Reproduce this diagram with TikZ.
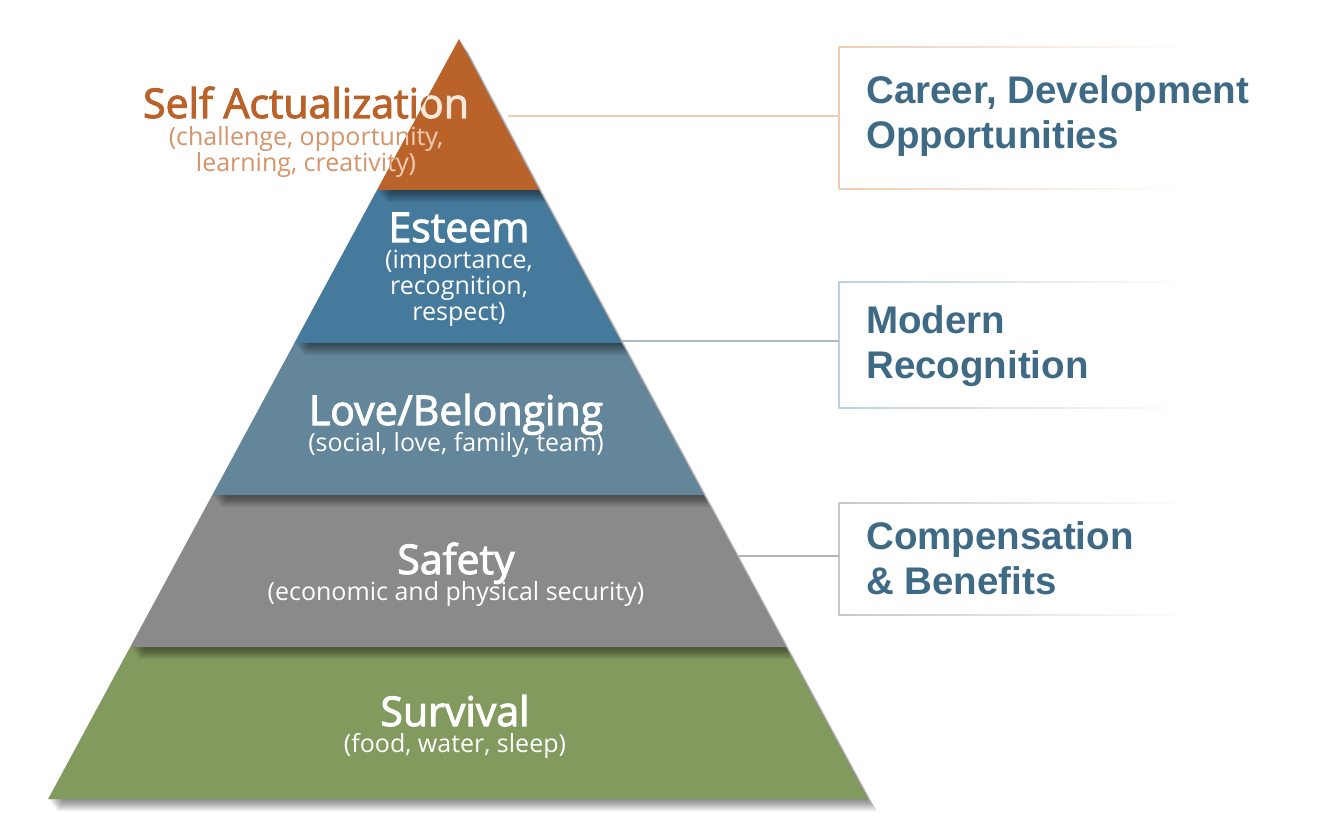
\documentclass[tikz,border=0pt]{standalone}
\usepackage{fontspec}
\setmainfont{Open Sans}
\newfontfamily\semibf[FakeBold=2.5]{Open Sans}
\newfontfamily\boxfont{Liberation Sans}
\usetikzlibrary{calc}
\definecolor{saC}{HTML}{B9622A}
\definecolor{saSub}{HTML}{D4946A}
\definecolor{saIn}{HTML}{F8E8DC}
\definecolor{saInSub}{HTML}{EDC8AC}
\definecolor{esC}{HTML}{457A9C}
\definecolor{loC}{HTML}{63869B}
\definecolor{sfC}{HTML}{8A8A8A}
\definecolor{suC}{HTML}{839A5F}
\definecolor{boxblue}{HTML}{3E6A86}
\definecolor{fr1}{HTML}{EFCDB5}
\definecolor{fr2}{HTML}{BDD0DD}
\definecolor{fr3}{HTML}{C8C8C8}
\newcommand\bandshadow[1]{\foreach \k in {1,...,10}{\fill[black, opacity=0.055, shift={(\k*0.9,\k*1.2)}] #1;}}
\newcommand\fadeframe[4]{%
  \draw[\frcol, line width=1.5pt] (#1,#2) -- (#1,#4);
  \shade[left color=\frcol, right color=white] ($(#1,#2)+(-0.75,-0.75)$) rectangle ($(#3,#2)+(0,0.75)$);
  \shade[left color=\frcol, right color=white] ($(#1,#4)+(-0.75,-0.75)$) rectangle ($(#3,#4)+(0,0.75)$);
}
\tikzset{
  title/.style={font=\semibf\fontsize{41}{43}\selectfont, text=white, inner sep=0pt, text depth=0pt, anchor=base},
  subtitle/.style={font=\fontsize{25}{26}\selectfont, text=white!85, align=center, inner sep=0pt, anchor=north},
  boxtext/.style={font=\boxfont\bfseries\fontsize{38.5}{45}\selectfont, text=boxblue, align=left, inner sep=0pt, anchor=north west},
  framebox/.style={inner sep=0pt, minimum width=351pt, minimum height=#1},
  link/.style={line width=1.6pt}
}
\begin{document}
\begin{tikzpicture}[x=1pt,y=-1pt]
\useasboundingbox (0,0) rectangle (1318,834);
\fill[white] (0,0) rectangle (1318,834);
% bands, bottom to top
\bandshadow{(130.2,647) -- (785.8,647) -- (867.9,799) -- (48.1,799) -- cycle}
\fill[suC] (130.2,647) -- (785.8,647) -- (867.9,799) -- (48.1,799) -- cycle;
\bandshadow{(212.3,495) -- (703.7,495) -- (785.8,647) -- (130.2,647) -- cycle}
\fill[sfC] (212.3,495) -- (703.7,495) -- (785.8,647) -- (130.2,647) -- cycle;
\bandshadow{(294.4,343) -- (621.6,343) -- (703.7,495) -- (212.3,495) -- cycle}
\fill[loC] (294.4,343) -- (621.6,343) -- (703.7,495) -- (212.3,495) -- cycle;
\bandshadow{(377,190) -- (539,190) -- (621.6,343) -- (294.4,343) -- cycle}
\fill[esC] (377,190) -- (539,190) -- (621.6,343) -- (294.4,343) -- cycle;
\bandshadow{(459,39) -- (539,190) -- (377,190) -- cycle}
\fill[saC] (459,39) -- (539,190) -- (377,190) -- cycle;

% self actualization label (orange outside, light inside the apex)
\node[title, text=saC] (sa) at (306,118) {Self Actualization};
\node[subtitle, text=saSub] (sasub) at (306,126) {(challenge, opportunity,\\learning, creativity)};
\begin{scope}
  \clip (459,39) -- (539,190) -- (377,190) -- cycle;
  \node[title, text=saIn] (saIn) at (306,118) {Self Actualization};
  \node[subtitle, text=saInSub] (sasubIn) at (306,126) {(challenge, opportunity,\\learning, creativity)};
\end{scope}

\node[title] (es) at (459,242) {Esteem};
\node[subtitle] (essub) at (459,250) {(importance,\\recognition,\\respect)};
\node[title] (lo) at (456,425) {Love/Belonging};
\node[subtitle] (losub) at (456,432) {(social, love, family, team)};
\node[title] (sf) at (456,574) {Safety};
\node[subtitle] (sfsub) at (456,581) {(economic and physical security)};
\node[title] (su) at (455,726) {Survival};
\node[subtitle] (susub) at (455,733) {(food, water, sleep)};

% right boxes
\node[framebox=142pt] (b1) at (1014.5,118) {};
\node[framebox=126pt] (b2) at (1014.5,345) {};
\node[framebox=112pt] (b3) at (1014.5,559) {};
\def\frcol{fr1}\fadeframe{839}{47}{1190}{189}
\def\frcol{fr2}\fadeframe{839}{282}{1190}{408}
\def\frcol{fr3}\fadeframe{839}{503}{1190}{615}
\node[boxtext] (t1) at (866,75) {Career, Development\\Opportunities};
\node[boxtext] (t2) at (866,305) {Modern\\Recognition};
\node[boxtext] (t3) at (866,521) {Compensation\\\& Benefits};

% connectors
\coordinate (c1) at (508,116);
\coordinate (c2) at (622,341);
\coordinate (c3) at (738,556);
\draw[link, fr1] (c1) -- (c1 -| b1.west);
\draw[link, fr2!90!black] (c2) -- (c2 -| b2.west);
\draw[link, fr3!90!black] (c3) -- (c3 -| b3.west);
\end{tikzpicture}
\end{document}
